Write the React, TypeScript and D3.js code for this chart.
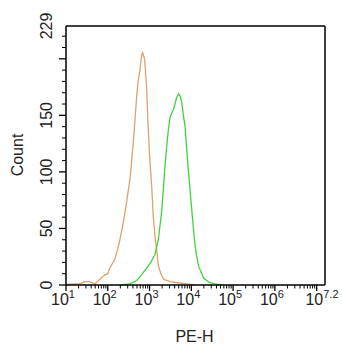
import React from "react";
import * as d3 from "d3";

// log10 of PE-H, count
const orangeLog = [1.0, 1.22, 1.33, 1.45, 1.57, 1.69, 1.81, 1.93, 2.0, 2.05, 2.17, 2.24, 2.29, 2.37, 2.45, 2.54, 2.63, 2.69, 2.72, 2.77, 2.8, 2.83, 2.88, 2.93, 2.96, 3.0, 3.05, 3.09, 3.14, 3.18, 3.21, 3.27, 3.34, 3.49, 3.68, 3.89, 4.09];
const orangeCount = [0.5, 1, 1, 3, 3, 1, 5, 9, 10, 15, 23, 32, 40, 55, 73, 96, 135, 166, 178, 190, 200, 206, 200, 175, 145, 115, 88, 60, 40, 28, 17, 10, 5, 3, 2, 1, 0];
const greenLog = [2.29, 2.53, 2.69, 2.79, 2.93, 3.03, 3.13, 3.21, 3.29, 3.33, 3.37, 3.41, 3.45, 3.49, 3.53, 3.57, 3.61, 3.65, 3.7, 3.73, 3.77, 3.81, 3.85, 3.89, 3.92, 3.95, 3.99, 4.05, 4.09, 4.13, 4.18, 4.25, 4.3, 4.37, 4.44, 4.56, 4.73];
const greenCount = [0, 1, 4, 8, 15, 20, 27, 40, 65, 85, 105, 122, 137, 148, 152, 155, 160, 166, 169, 167, 162, 150, 140, 120, 105, 93, 75, 50, 35, 25, 16, 10, 6, 4, 2, 1, 0];

const xTickExps = ["1", "2", "3", "4", "5", "6", "7.2"];
const yTickLabels = [0, 50, 100, 150, 229];
const yMax = 229;

export default function App() {
  const left = 66, right = 325, top = 26, bottom = 285;
  const x = d3.scaleLog().domain([10, Math.pow(10, 7.2)]).range([left, right]);
  const y = d3.scaleLinear().domain([0, yMax]).range([bottom, top]);
  const font = "'Liberation Sans', Arial, sans-serif";

  const line = d3
    .line<[number, number]>()
    .x((d) => x(Math.pow(10, d[0])))
    .y((d) => y(d[1]));
  const orange = orangeLog.map((v, i) => [v, orangeCount[i]] as [number, number]);
  const green = greenLog.map((v, i) => [v, greenCount[i]] as [number, number]);

  const minorX: number[] = [];
  for (let e = 1; e < 8; e++) {
    for (let m = 2; m <= 9; m++) {
      const v = m * Math.pow(10, e);
      if (v < Math.pow(10, 7.2)) minorX.push(v);
    }
  }
  const majorX = d3.range(1, 8).map((e) => Math.pow(10, e));
  const minorY = d3.range(0, 230, 10).filter((v) => v % 50 !== 0);
  const majorY = [0, 50, 100, 150, 200];

  return (
    <svg width={342} height={350} style={{ position: "absolute", left: 0, top: 0, background: "#fff" }}>
      <rect x={0} y={0} width={342} height={350} fill="#fff" />
      <path d={line(orange) || ""} fill="none" stroke="#E2A06A" strokeWidth={1.3} />
      <path d={line(green) || ""} fill="none" stroke="#3FD43F" strokeWidth={1.3} />
      {/* frame */}
      <line x1={left} x2={right} y1={top} y2={top} stroke="#000" strokeWidth={1.5} />
      <line x1={right} x2={right} y1={top} y2={bottom} stroke="#000" strokeWidth={1.5} />
      <line x1={left} x2={left} y1={top} y2={bottom} stroke="#000" strokeWidth={1.5} />
      <line x1={left} x2={right} y1={bottom} y2={bottom} stroke="#000" strokeWidth={1.5} />
      {/* x ticks */}
      {minorX.map((v, i) => (
        <line key={"mx" + i} x1={x(v)} x2={x(v)} y1={bottom} y2={bottom + 3.5} stroke="#000" strokeWidth={1} />
      ))}
      {majorX.map((v, i) => (
        <line key={"Mx" + i} x1={x(v)} x2={x(v)} y1={bottom} y2={bottom + 6} stroke="#000" strokeWidth={1.3} />
      ))}
      {xTickExps.map((e, i) => {
        const px = x(Math.pow(10, parseFloat(e)));
        return (
          <text key={"xl" + i} x={px - 3} y={305} textAnchor="middle" fontFamily={font} fontSize={16} fill="#222">
            10<tspan dy={-7} fontSize={11}>{e}</tspan>
          </text>
        );
      })}
      {/* y ticks */}
      {minorY.map((v, i) => (
        <line key={"my" + i} x1={left - 4} x2={left} y1={y(v)} y2={y(v)} stroke="#000" strokeWidth={1} />
      ))}
      {majorY.map((v, i) => (
        <line key={"My" + i} x1={left - 7} x2={left} y1={y(v)} y2={y(v)} stroke="#000" strokeWidth={1.3} />
      ))}
      {yTickLabels.map((v, i) => (
        <text
          key={"yl" + i}
          transform={`translate(52,${y(v)}) rotate(-90)`}
          textAnchor="middle"
          fontFamily={font}
          fontSize={16}
          fill="#222"
        >
          {v}
        </text>
      ))}
      <text transform={`translate(23,155) rotate(-90)`} textAnchor="middle" fontFamily={font} fontSize={16} fill="#222">
        Count
      </text>
      <text x={194.5} y={342} textAnchor="middle" fontFamily={font} fontSize={16} fill="#222">
        PE-H
      </text>
    </svg>
  );
}
